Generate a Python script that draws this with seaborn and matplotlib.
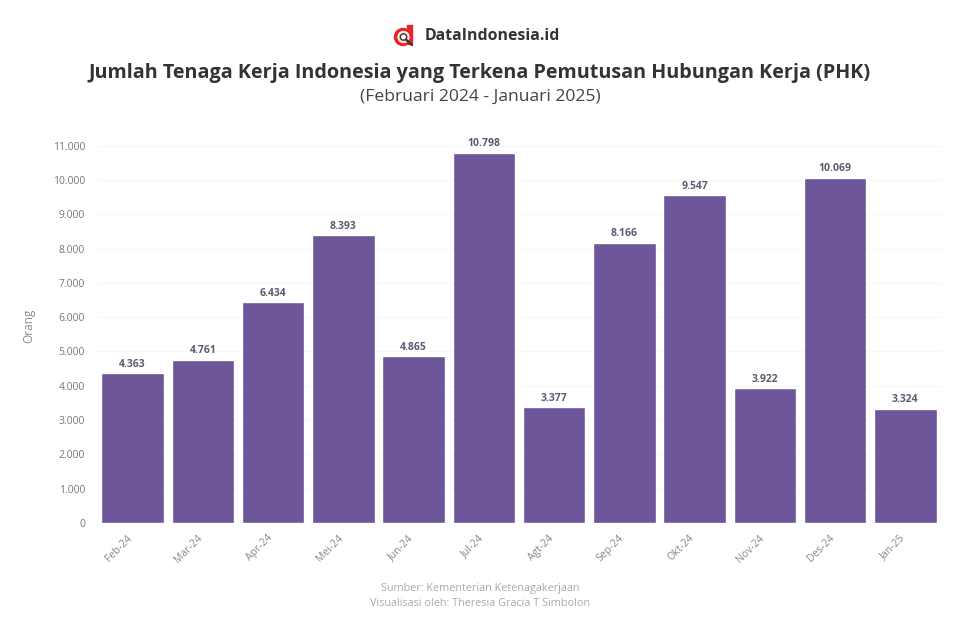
import matplotlib.pyplot as plt
from matplotlib.patches import Circle, Rectangle
from matplotlib.transforms import ScaledTranslation
import pandas as pd
import seaborn as sns

months = ['Feb-24', 'Mar-24', 'Apr-24', 'Mei-24', 'Jun-24', 'Jul-24', 'Agt-24', 'Sep-24', 'Okt-24', 'Nov-24', 'Des-24', 'Jan-25']
phk = [4363, 4761, 6434, 8393, 4865, 10798, 3377, 8166, 9547, 3922, 10069, 3324]
y_ticks = list(range(0, 12000, 1000))

W, H = 960, 620
PURPLE = '#6d5699'

sns.set_theme(style='white')
plt.rcParams['font.family'] = ['Open Sans', 'DejaVu Sans']

df = pd.DataFrame({'bulan': months, 'orang': phk})

fig = plt.figure(figsize=(W / 100, H / 100), dpi=100, facecolor='white')
ax = fig.add_axes([97.5 / W, (H - 523) / H, 843 / W, 382 / H])

sns.barplot(data=df, x='bulan', y='orang', color=PURPLE, saturation=1, width=0.89, ax=ax, zorder=2)

ax.set_xlim(-0.5, 11.5)
ax.set_ylim(0, 11135)
ax.set_yticks(y_ticks)
ax.set_yticklabels([f'{v:,}'.replace(',', '.') for v in y_ticks], fontsize=7.5, color='#777777')
ax.set_xlabel('')
ax.set_ylabel('Orang', fontsize=8.5, color='#888888', labelpad=0)
ax.yaxis.set_label_coords(-0.074, 0.515)
ax.grid(axis='y', color='#f6f6f6', linewidth=0.8, zorder=0)
ax.tick_params(axis='y', length=0, pad=9)
ax.tick_params(axis='x', length=0, pad=7)
shift = ScaledTranslation(-6 / 100, 0, fig.dpi_scale_trans)
for label in ax.get_xticklabels():
    label.set_rotation(45)
    label.set_ha('right')
    label.set_rotation_mode('anchor')
    label.set_fontsize(7.5)
    label.set_color('#888888')
    label.set_transform(label.get_transform() + shift)
sns.despine(ax=ax, left=True, bottom=True)

for i, v in enumerate(phk):
    ax.annotate(f'{v:,}'.replace(',', '.'), (i, v), xytext=(0, 2.5), textcoords='offset points',
                ha='center', va='bottom', fontsize=7.5, fontweight='bold', color='#5d5a72')

fig.text(0.5, (H - 73) / H, 'Jumlah Tenaga Kerja Indonesia yang Terkena Pemutusan Hubungan Kerja (PHK)',
         ha='center', va='center', fontsize=14.25, fontweight='bold', color='#333333')
fig.text(0.5, (H - 96.5) / H, '(Februari 2024 - Januari 2025)', ha='center', va='center', fontsize=12.6, color='#444444')
fig.text(425 / W, (H - 36.5) / H, 'DataIndonesia.id', ha='left', va='center', fontsize=11.4, fontweight='bold', color='#333333')
fig.text(0.5, (H - 588) / H, 'Sumber: Kementerian Ketenagakerjaan', ha='center', va='center', fontsize=7.8, color='#aaaaaa')
fig.text(0.5, (H - 603) / H, 'Visualisasi oleh: Theresia Gracia T Simbolon', ha='center', va='center', fontsize=7.8, color='#aaaaaa')

# logo
logo = fig.add_axes([0, 0, 1, 1], facecolor='none')
logo.set_xlim(0, W)
logo.set_ylim(H, 0)
logo.axis('off')
logo.add_patch(Rectangle((407, 25), 4.5, 19, color='#e8242c'))
logo.add_patch(Circle((403, 37), 8.5, color='#e8242c'))
logo.add_patch(Circle((403.5, 37), 5.5, color='#f3e9dc'))
logo.add_patch(Circle((403.5, 37), 3.2, color='#ffffff', ec='#333333', lw=1))
logo.plot([406, 412], [39.5, 45], color='#333333', lw=1.6)

fig.savefig('out.png', dpi=100)
